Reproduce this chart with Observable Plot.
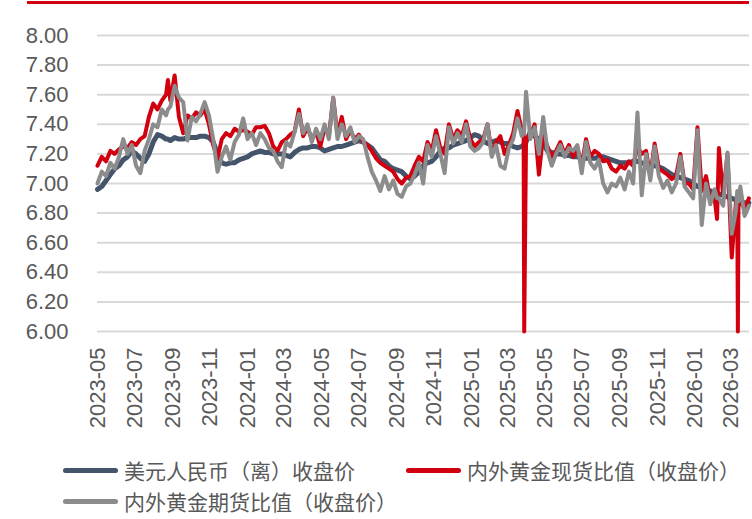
<!DOCTYPE html>
<html><head><meta charset="utf-8">
<script src="https://cdn.jsdelivr.net/npm/d3@7"></script>
<script src="https://cdn.jsdelivr.net/npm/@observablehq/plot@0.6"></script>
<style>
body{margin:0;background:#fff;}
#wrap{position:relative;width:752px;height:519px;overflow:hidden;font-family:"Liberation Sans",Arial,sans-serif;}
#topline{position:absolute;left:27px;top:1px;width:722px;height:3px;background:#d2000f;}
#chart{position:absolute;left:0;top:0;}
.leg{position:absolute;display:flex;align-items:center;font-family:"Noto Sans CJK SC",sans-serif;font-size:21px;line-height:23px;height:23px;color:#595959;white-space:nowrap;}
.sw{display:inline-block;width:55px;height:5px;border-radius:3px;margin-right:6px;}
</style></head><body>
<div id="wrap"><div id="chart"></div><div id="topline"></div></div>
<script>
const seriesNames = ["美元人民币（离）收盘价", "内外黄金现货比值（收盘价）", "内外黄金期货比值（收盘价）"];
const seriesColors = ["#44546a", "#d2000f", "#8c8c8c"];
const yTicks = [6.0, 6.2, 6.4, 6.6, 6.8, 7.0, 7.2, 7.4, 7.6, 7.8, 8.0];
const xTicks = ["2023-05","2023-07","2023-09","2023-11","2024-01","2024-03","2024-05","2024-07","2024-09","2024-11","2025-01","2025-03","2025-05","2025-07","2025-09","2025-11","2026-01","2026-03"];

const dates = [
"2023-05-01","2023-05-08","2023-05-15","2023-05-22","2023-05-29","2023-06-05","2023-06-12","2023-06-19","2023-06-26","2023-07-03",
"2023-07-10","2023-07-17","2023-07-24","2023-07-31","2023-08-07","2023-08-14","2023-08-21","2023-08-24","2023-08-28","2023-09-04","2023-09-11",
"2023-09-18","2023-09-25","2023-10-02","2023-10-09","2023-10-16","2023-10-23","2023-10-30","2023-11-06","2023-11-13","2023-11-20",
"2023-11-27","2023-12-04","2023-12-11","2023-12-18","2023-12-25","2024-01-01","2024-01-08","2024-01-15","2024-01-22","2024-01-29",
"2024-02-05","2024-02-12","2024-02-19","2024-02-26","2024-03-04","2024-03-11","2024-03-18","2024-03-25","2024-04-01","2024-04-08",
"2024-04-15","2024-04-22","2024-04-29","2024-05-06","2024-05-13","2024-05-20","2024-05-27","2024-06-03","2024-06-10","2024-06-17",
"2024-06-24","2024-07-01","2024-07-08","2024-07-15","2024-07-22","2024-07-29","2024-08-05","2024-08-12","2024-08-19","2024-08-26",
"2024-09-02","2024-09-09","2024-09-16","2024-09-23","2024-09-30","2024-10-07","2024-10-14","2024-10-21","2024-10-28","2024-11-04",
"2024-11-11","2024-11-18","2024-11-25","2024-12-02","2024-12-09","2024-12-16","2024-12-23","2024-12-30","2025-01-06","2025-01-13",
"2025-01-20","2025-01-27","2025-02-03","2025-02-10","2025-02-17","2025-02-24","2025-03-03","2025-03-10","2025-03-17","2025-03-24",
"2025-03-27","2025-03-28",
"2025-03-31","2025-04-07","2025-04-14","2025-04-21","2025-04-28","2025-05-05","2025-05-12","2025-05-19","2025-05-26","2025-06-02",
"2025-06-09","2025-06-16","2025-06-23","2025-06-30","2025-07-07","2025-07-14","2025-07-21","2025-07-28","2025-08-04","2025-08-11",
"2025-08-18","2025-08-25","2025-09-01","2025-09-08","2025-09-15","2025-09-22","2025-09-29","2025-10-06","2025-10-13","2025-10-20",
"2025-10-27","2025-11-03","2025-11-10","2025-11-17","2025-11-24","2025-12-01","2025-12-08","2025-12-15","2025-12-22","2025-12-29",
"2026-01-05","2026-01-12","2026-01-19","2026-01-26","2026-02-02",
"2026-02-06",
"2026-02-09","2026-02-16","2026-02-23","2026-03-02","2026-03-09",
"2026-03-11","2026-03-12","2026-03-13",
"2026-03-16","2026-03-23","2026-03-30"];

const usdcnh = [
6.96,6.98,7.02,7.06,7.10,7.12,7.16,7.18,7.22,7.20,
7.17,7.15,7.20,7.28,7.33,7.32,7.30,7.30,7.29,7.31,7.30,
7.30,7.31,7.31,7.31,7.32,7.32,7.31,7.28,7.20,7.14,
7.13,7.14,7.14,7.16,7.17,7.18,7.20,7.21,7.22,7.21,
7.21,7.20,7.20,7.20,7.19,7.18,7.21,7.23,7.24,7.24,
7.25,7.25,7.24,7.22,7.23,7.24,7.25,7.25,7.26,7.27,
7.28,7.29,7.28,7.26,7.24,7.20,7.16,7.15,7.12,7.10,
7.09,7.08,7.05,7.03,7.05,7.08,7.12,7.14,7.15,7.18,
7.22,7.24,7.24,7.26,7.27,7.28,7.29,7.31,7.33,7.32,
7.29,7.27,7.28,7.29,7.28,7.27,7.27,7.25,7.24,7.25,
7.26,7.26,
7.28,7.35,7.32,7.30,7.27,7.22,7.21,7.20,7.20,7.19,
7.19,7.18,7.18,7.17,7.17,7.17,7.17,7.18,7.18,7.17,
7.16,7.15,7.14,7.14,7.14,7.15,7.15,7.14,7.13,7.12,
7.12,7.11,7.10,7.08,7.06,7.05,7.04,7.03,7.02,7.00,
6.98,6.97,6.96,6.95,6.94,
6.93,
6.93,6.92,6.91,6.90,6.89,
6.89,6.89,6.89,
6.88,6.87,6.87];

const spotRatio = [
7.12,7.18,7.15,7.22,7.20,7.23,7.25,7.24,7.28,7.26,
7.30,7.32,7.45,7.54,7.50,7.56,7.60,7.70,7.56,7.73,7.45,
7.34,7.46,7.44,7.48,7.46,7.50,7.40,7.26,7.17,7.30,
7.34,7.32,7.37,7.35,7.36,7.35,7.33,7.38,7.38,7.39,
7.34,7.25,7.22,7.28,7.30,7.33,7.35,7.50,7.32,7.38,
7.30,7.35,7.25,7.38,7.32,7.58,7.33,7.45,7.30,7.36,
7.30,7.33,7.28,7.26,7.22,7.17,7.14,7.12,7.10,7.08,
7.03,7.00,7.04,7.05,7.12,7.18,7.15,7.28,7.22,7.36,
7.24,7.20,7.40,7.30,7.36,7.32,7.42,7.30,7.25,7.28,
7.30,7.40,7.20,7.28,7.32,7.20,7.26,7.34,7.49,7.36,
7.38,6.00,
7.30,7.33,7.40,7.06,7.33,7.25,7.18,7.22,7.28,7.20,
7.26,7.18,7.24,7.12,7.30,7.18,7.22,7.20,7.15,7.16,
7.10,7.08,7.12,7.10,7.15,7.12,7.25,7.20,7.22,7.05,
7.27,7.10,7.08,7.06,7.03,7.05,7.20,7.00,7.00,6.96,
7.38,6.95,7.05,6.88,6.90,
6.76,
7.24,6.92,7.20,6.50,6.88,
6.86,6.00,6.84,
6.90,6.82,6.90];

const futRatio = [
7.00,7.08,7.05,7.14,7.10,7.18,7.30,7.20,7.26,7.12,
7.07,7.22,7.30,7.40,7.38,7.50,7.46,7.50,7.52,7.66,7.58,
7.55,7.29,7.45,7.42,7.47,7.55,7.46,7.30,7.08,7.18,
7.25,7.16,7.28,7.33,7.44,7.30,7.34,7.26,7.34,7.30,
7.24,7.22,7.15,7.11,7.28,7.25,7.35,7.47,7.34,7.40,
7.28,7.37,7.30,7.40,7.30,7.58,7.30,7.40,7.32,7.38,
7.28,7.32,7.30,7.18,7.08,7.02,6.95,7.05,6.96,7.02,
6.93,6.91,6.98,7.00,7.06,7.14,7.00,7.26,7.18,7.32,
7.20,7.07,7.38,7.27,7.34,7.28,7.40,7.25,7.22,7.24,
7.28,7.40,7.18,7.26,7.12,7.10,7.24,7.30,7.44,7.32,
7.34,7.36,
7.62,7.30,7.38,7.20,7.45,7.22,7.12,7.20,7.26,7.18,
7.24,7.22,7.26,7.07,7.28,7.14,7.10,7.16,7.00,6.94,
7.00,6.98,7.04,6.96,7.08,7.00,7.48,6.92,7.20,7.02,
7.25,7.05,6.97,7.02,6.94,7.00,7.18,6.98,6.94,6.90,
7.36,6.72,7.00,6.86,6.96,
6.90,
6.90,6.85,7.21,6.66,6.82,
6.95,6.92,6.88,
6.98,6.78,6.85];

const parse = d3.utcParse("%Y-%m-%d");
const parseM = d3.utcParse("%Y-%m");
const rows = dates.map((d, i) => ({date: parse(d), usd: usdcnh[i], spot: spotRatio[i], fut: futRatio[i]}));
const lineOpts = {x: "date", strokeLinejoin: "round", strokeLinecap: "round"};

const chart = Plot.plot({
  width: 752,
  height: 445,
  marginLeft: 97,
  marginRight: 3,
  marginTop: 35,
  marginBottom: 114,
  style: {fontFamily: "'Liberation Sans', Arial, sans-serif", fontSize: "22px", color: "#595959", background: "transparent", overflow: "visible"},
  x: {type: "utc", domain: [parse("2023-05-01"), parse("2026-03-31")]},
  y: {domain: [6, 8]},
  marks: [
    Plot.gridY(yTicks, {stroke: "#d9d9d9", strokeOpacity: 1, strokeWidth: 2}),
    Plot.axisY(yTicks, {tickSize: 0, tickPadding: 29, tickFormat: d3.format(".2f"), fontSize: 22, fill: "#595959", label: null}),
    Plot.axisX(xTicks.map(parseM), {tickSize: 0, tickPadding: 16, tickRotate: -90, tickFormat: d3.utcFormat("%Y-%m"), fontSize: 22, fill: "#595959", label: null}),
    Plot.line(rows, {...lineOpts, y: "usd", stroke: seriesColors[0], strokeWidth: 5}),
    Plot.line(rows, {...lineOpts, y: "spot", stroke: seriesColors[1], strokeWidth: 4}),
    Plot.line(rows, {...lineOpts, y: "fut", stroke: seriesColors[2], strokeWidth: 4})
  ]
});
document.getElementById("chart").appendChild(chart);

const legendPos = [[63, 459], [406, 459], [63, 490]];
const wrap = document.getElementById("wrap");
seriesNames.forEach((name, i) => {
  const div = document.createElement("div");
  div.className = "leg";
  div.style.left = legendPos[i][0] + "px";
  div.style.top = legendPos[i][1] + "px";
  const sw = document.createElement("span");
  sw.className = "sw";
  sw.style.background = seriesColors[i];
  div.appendChild(sw);
  div.appendChild(document.createTextNode(name));
  wrap.appendChild(div);
});
</script>
</body></html>
